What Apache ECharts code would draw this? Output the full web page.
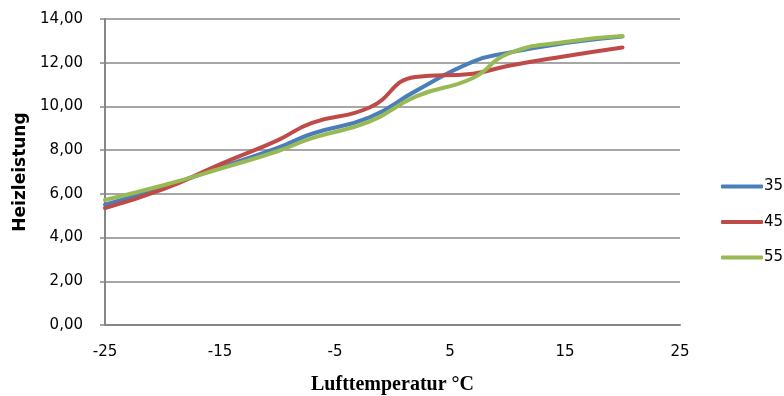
<!DOCTYPE html>
<html><head><meta charset="utf-8">
<script src="https://cdn.jsdelivr.net/npm/echarts@6/dist/echarts.min.js"></script>
<style>html,body{margin:0;padding:0;background:#fff}#c{width:784px;height:396px}</style>
</head><body><div id="c"></div>
<script>
const temps = [-25, -20, -15, -10, -7, -2, 2, 7, 10, 15, 20];
const s35 = [5.5, 6.3, 7.2, 8.1, 8.75, 9.5, 10.7, 12.05, 12.45, 12.9, 13.2];
const s45 = [5.35, 6.2, 7.35, 8.45, 9.25, 9.95, 11.35, 11.5, 11.85, 12.3, 12.7];
const s55 = [5.72, 6.38, 7.15, 7.95, 8.55, 9.3, 10.45, 11.3, 12.4, 12.95, 13.22];
const seriesNames = ['35', '45', '55'];
const colors = ['#4A7EBB', '#BE4B48', '#98B954'];
const xTitle = 'Lufttemperatur °C';
const yTitle = 'Heizleistung';

const chart = echarts.init(document.getElementById('c'));
const mk = (name, vals, color) => ({
  name, type: 'line', smooth: 0.5, showSymbol: false,
  data: temps.map((t, i) => [t, vals[i]]),
  lineStyle: { width: 4, color, cap: 'round' }, itemStyle: { color }
});
chart.setOption({
  animation: false,
  grid: { left: 105, right: 104, top: 19, bottom: 71, containLabel: false, outerBoundsMode: 'none' },
  legend: {
    orient: 'vertical', left: 716, top: 174, itemGap: 20.5,
    icon: 'roundRect', itemWidth: 42, itemHeight: 4,
    textStyle: { fontFamily: 'DejaVu Sans', fontSize: 15, color: '#000', padding: [0, 0, 0, -4] },
    data: seriesNames
  },
  xAxis: {
    type: 'value', min: -25, max: 25, interval: 10,
    name: xTitle, nameLocation: 'middle', nameGap: 50,
    nameTextStyle: { fontFamily: 'Liberation Serif', fontWeight: 'bold', fontSize: 20, color: '#000' },
    axisLine: { lineStyle: { color: '#868686', width: 2 } },
    axisTick: { show: false },
    splitLine: { show: false },
    axisLabel: { fontFamily: 'DejaVu Sans', fontSize: 15, color: '#000', margin: 20 }
  },
  yAxis: {
    type: 'value', min: 0, max: 14, interval: 2,
    name: yTitle, nameLocation: 'middle', nameGap: 76,
    nameTextStyle: { fontFamily: 'DejaVu Sans', fontWeight: 'bold', fontSize: 17, color: '#000' },
    axisLine: { show: true, onZero: false, lineStyle: { color: '#868686', width: 2 } },
    axisTick: { show: true, length: 5, lineStyle: { color: '#868686', width: 1.5 } },
    splitLine: { lineStyle: { color: '#A6A6A6', width: 2 } },
    axisLabel: { fontFamily: 'DejaVu Sans', fontSize: 15, color: '#000', margin: 22,
      formatter: v => v.toFixed(2).replace('.', ',') }
  },
  series: [mk(seriesNames[0], s35, colors[0]), mk(seriesNames[1], s45, colors[1]), mk(seriesNames[2], s55, colors[2])]
});
</script></body></html>
